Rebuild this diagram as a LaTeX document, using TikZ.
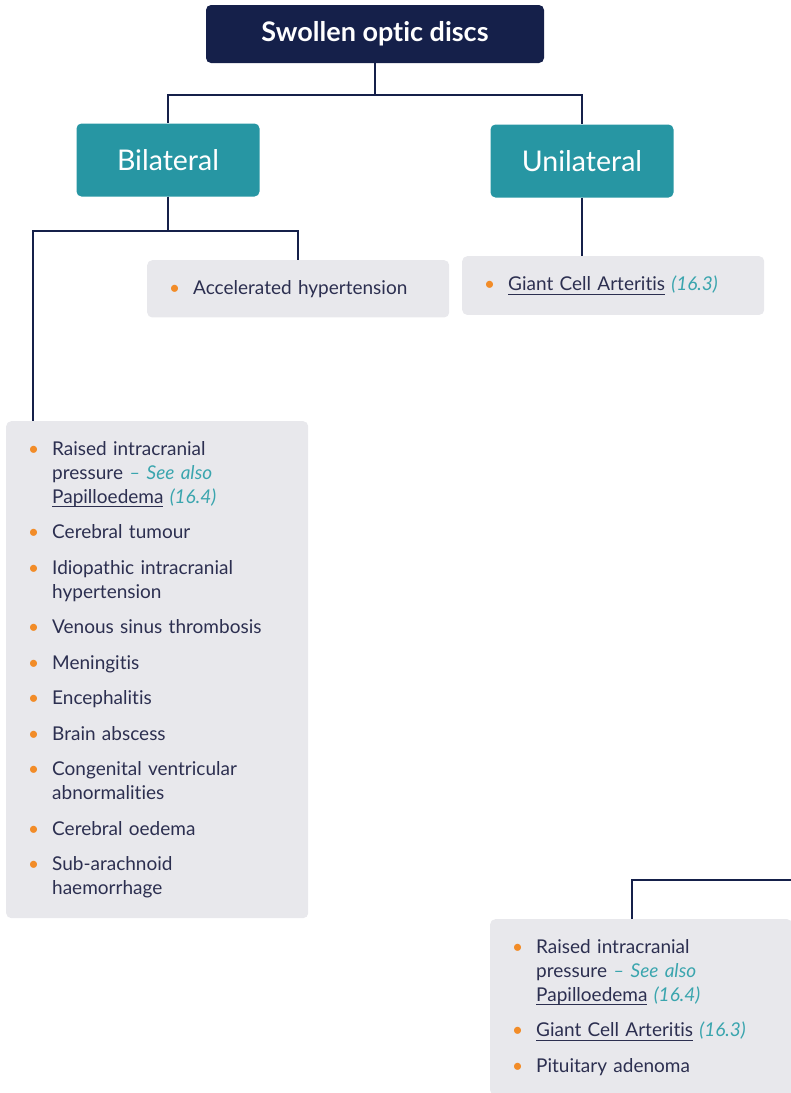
\documentclass[tikz,border=0pt]{standalone}
\usepackage{fontspec}
\setmainfont{Lato}[Ligatures=NoCommon]
\usepackage{tikz}
\usetikzlibrary{positioning, calc}
\definecolor{discNavy}{RGB}{21, 32, 74}
\definecolor{discTeal}{RGB}{39, 150, 163}
\definecolor{discGrey}{RGB}{232, 232, 236}
\definecolor{discInk}{RGB}{44, 47, 80}
\definecolor{discDot}{RGB}{242, 140, 40}
\definecolor{discRef}{RGB}{58, 165, 174}
% one bullet line of a list box
\newcommand{\bitem}[1]{\noindent\hangindent=24pt\hangafter=1%
  \makebox[24pt][l]{\textcolor{discDot}{\textbullet}}#1\par}
\newcommand{\nitem}[1]{\par\vspace{11.5pt}\bitem{#1}}
\newcommand{\ulink}[1]{\setbox0\hbox{#1}\rlap{\rule[-4pt]{\wd0}{1pt}}\box0\relax}
\newcommand{\sref}[1]{\textcolor{discRef}{\itshape #1}}

\begin{document}
\begin{tikzpicture}[x=1pt, y=-1pt,
    headbox/.style={fill=discNavy, text=white, rounded corners=5pt,
      minimum width=338pt, minimum height=58pt,
      font=\fontsize{27}{32}\selectfont\bfseries},
    sidebox/.style={fill=discTeal, text=white, rounded corners=5pt,
      minimum width=183pt, minimum height=73pt,
      font=\fontsize{28.5}{33}\selectfont},
    listbox/.style={fill=discGrey, text=discInk, rounded corners=5pt,
      anchor=north west, text width=258pt, inner xsep=22pt, inner ysep=20pt,
      font=\fontsize{19}{24}\selectfont},
    link/.style={draw=discNavy, line width=1.6pt}
  ]
  \clip (0,0) rectangle (791,1093);

  \node[headbox] (title) at (375,34) {Swollen optic discs};
  \node[sidebox] (bilat) at (168,160) {Bilateral};
  \node[sidebox] (unilat) at (582,161) {Unilateral};

  \node[listbox] (accel) at (147,260) {%
    \bitem{Accelerated hypertension}};
  \node[listbox] (giant) at (462,256) {%
    \bitem{\ulink{Giant Cell Arteritis} \sref{(16.3)}}};

  \node[listbox] (raised) at (6,421) {%
    \bitem{Raised intracranial\newline pressure \sref{– See also}\newline
      \ulink{Papilloedema} \sref{(16.4)}}
    \nitem{Cerebral tumour}
    \nitem{Idiopathic intracranial\newline hypertension}
    \nitem{Venous sinus thrombosis}
    \nitem{Meningitis}
    \nitem{Encephalitis}
    \nitem{Brain abscess}
    \nitem{Congenital ventricular\newline abnormalities}
    \nitem{Cerebral oedema}
    \nitem{Sub-arachnoid\newline haemorrhage}};

  \node[listbox] (lower) at (490,919) {%
    \bitem{Raised intracranial\newline pressure \sref{– See also}\newline
      \ulink{Papilloedema} \sref{(16.4)}}
    \nitem{\ulink{Giant Cell Arteritis} \sref{(16.3)}}
    \nitem{Pituitary adenoma}};

  % connectors
  \coordinate (raisedtop) at ([xshift=27pt]raised.north west);
  \coordinate (lowertop) at ([xshift=142pt]lower.north west);
  \coordinate (lowerend) at (800,880);

  \draw[link] (title.south) -- ++(0,32) -| (bilat.north);
  \draw[link] (title.south) -- ++(0,32) -| (unilat.north);
  \draw[link] (bilat.south) -- ++(0,34) -| (accel.north);
  \draw[link] (bilat.south) -- ++(0,34) -| (raisedtop);
  \draw[link] (unilat.south) -- (unilat.south |- giant.north);
  \draw[link] (lowertop) |- (lowerend);
\end{tikzpicture}
\end{document}
